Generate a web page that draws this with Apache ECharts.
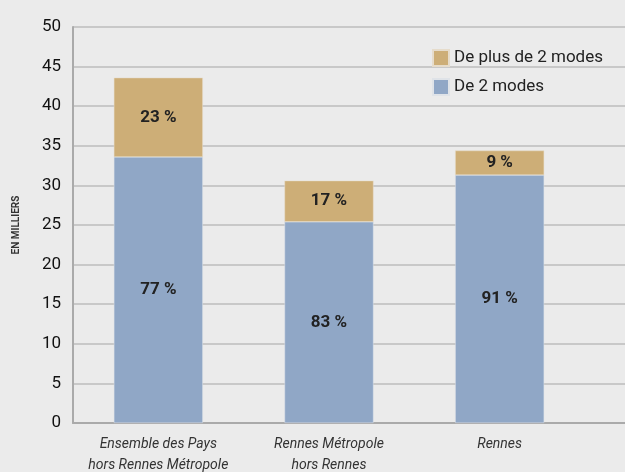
<head>
  <meta charset="UTF-8">
  <title>Modes</title>
  <script src="https://cdn.jsdelivr.net/npm/echarts@6/dist/echarts.min.js"></script>
</head>
<body style="margin:0;background:#ebebeb;">
  <div id="chart" style="width:625px;height:472px;"></div>
  <script type="text/javascript">
    // données (en milliers)
    const categories = ['Ensemble des Pays\nhors Rennes Métropole', 'Rennes Métropole\nhors Rennes', 'Rennes'];
    const deuxModes = [33.6, 25.4, 31.3];
    const plusDeDeux = [10.0, 5.2, 3.1];
    const pctDeux = ['77 %', '83 %', '91 %'];
    const pctPlus = ['23 %', '17 %', '9 %'];
    const seriesNames = ['De 2 modes', 'De plus de 2 modes'];

    const font = 'Roboto, sans-serif';
    const chart = echarts.init(document.getElementById('chart'));

    const option = {
      backgroundColor: '#ebebeb',
      textStyle: { fontFamily: font },
      legend: {
        data: [seriesNames[1], seriesNames[0]],
        orient: 'vertical',
        left: 427,
        top: 44,
        itemWidth: 16,
        itemHeight: 16,
        itemGap: 11,
        icon: 'rect',
        textStyle: { fontFamily: font, fontSize: 17, color: '#222' }
      },
      grid: [
        { left: 73, right: 40, top: 27, bottom: 49, outerBoundsMode: 'none' },
        { left: 73, right: 0, top: 27, bottom: 49, outerBoundsMode: 'none' }
      ],
      xAxis: [
        {
          type: 'category',
          data: categories,
          gridIndex: 0,
          axisLine: { show: false },
          axisTick: { show: false },
          axisLabel: {
            interval: 0,
            fontFamily: font, fontStyle: 'italic', fontSize: 14, color: '#333',
            lineHeight: 21, margin: 11
          }
        },
        {
          type: 'category', gridIndex: 1, data: [''],
          axisLine: { show: true, lineStyle: { color: '#aaa', width: 2 } },
          axisTick: { show: false },
          axisLabel: { show: false }
        }
      ],
      yAxis: [
        {
          type: 'value',
          gridIndex: 0,
          min: 0, max: 50, interval: 5,
          name: 'EN MILLIERS',
          nameLocation: 'middle',
          nameGap: 52,
          nameTextStyle: { fontFamily: font, fontSize: 10, fontWeight: 'bold', color: '#333' },
          axisLine: { show: true, lineStyle: { color: '#aaa', width: 2 } },
          axisTick: { show: false },
          axisLabel: { fontFamily: font, fontSize: 17, color: '#111', margin: 12 },
          splitLine: { show: false }
        },
        {
          type: 'value',
          gridIndex: 1,
          min: 0, max: 50, interval: 5,
          axisLine: { show: false },
          axisTick: { show: false },
          axisLabel: { show: false },
          splitLine: { lineStyle: { color: '#bdbdbd', width: 1.5 } }
        }
      ],
      series: [
        {
          name: seriesNames[0],
          type: 'bar',
          stack: 'total',
          barWidth: 89,
          data: deuxModes,
          itemStyle: { color: '#90a7c6', borderColor: '#dfe3e8', borderWidth: 0.5 },
          label: {
            show: true, position: 'inside',
            formatter: p => pctDeux[p.dataIndex],
            fontFamily: font, fontSize: 17, fontWeight: 'bold', color: '#222'
          },
          z: 3
        },
        {
          name: seriesNames[1],
          type: 'bar',
          stack: 'total',
          barWidth: 89,
          data: plusDeDeux,
          itemStyle: { color: '#cdae77', borderColor: '#e6dccb', borderWidth: 0.5 },
          label: {
            show: true, position: 'inside',
            formatter: p => pctPlus[p.dataIndex],
            fontFamily: font, fontSize: 17, fontWeight: 'bold', color: '#222'
          },
          z: 3
        }
      ]
    };
    chart.setOption(option);
  </script>
</body>
